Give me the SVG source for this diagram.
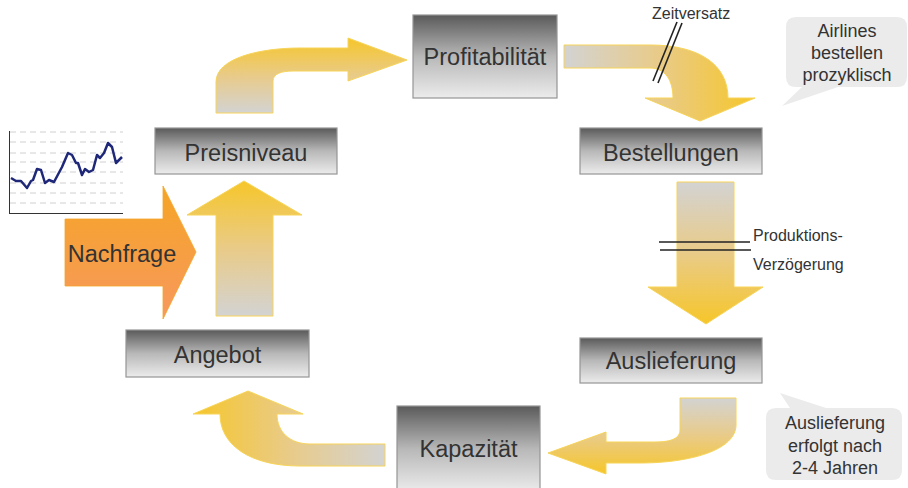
<svg xmlns="http://www.w3.org/2000/svg" width="908" height="488" viewBox="0 0 908 488">
<defs>
<linearGradient id="gBox" x1="0" y1="0" x2="0" y2="1">
<stop offset="0" stop-color="#5a5a5a"/>
<stop offset="0.5" stop-color="#b8b8b8"/>
<stop offset="1" stop-color="#ececec"/>
</linearGradient>
<linearGradient id="gUp" x1="0" y1="1" x2="0" y2="0">
<stop offset="0" stop-color="#d3d3d3"/>
<stop offset="0.5" stop-color="#e9cb88"/>
<stop offset="1" stop-color="#f6c62a"/>
</linearGradient>
<linearGradient id="gDown" x1="0" y1="0" x2="0" y2="1">
<stop offset="0" stop-color="#d3d3d3"/>
<stop offset="0.5" stop-color="#e9cb88"/>
<stop offset="1" stop-color="#f6c62a"/>
</linearGradient>
<linearGradient id="gRight" x1="0" y1="0" x2="1" y2="0">
<stop offset="0" stop-color="#d3d3d3"/>
<stop offset="0.5" stop-color="#e9cb88"/>
<stop offset="1" stop-color="#f6c62a"/>
</linearGradient>
<linearGradient id="gLeft" x1="1" y1="0" x2="0" y2="0">
<stop offset="0" stop-color="#d3d3d3"/>
<stop offset="0.5" stop-color="#e9cb88"/>
<stop offset="1" stop-color="#f6c62a"/>
</linearGradient>
<linearGradient id="gOrange" x1="0" y1="0" x2="0" y2="1">
<stop offset="0" stop-color="#f5a526"/>
<stop offset="1" stop-color="#f7985e"/>
</linearGradient>
</defs>
<style>
.box{fill:url(#gBox);stroke:#959595;stroke-width:1.2}
.lbl{font-family:"Liberation Sans",Arial,sans-serif;font-size:23.5px;fill:#333333;text-anchor:middle}
.arr{stroke:#f7d458;stroke-width:1}
.note{fill:#ebebeb}
.ntxt{font-family:"Liberation Sans",Arial,sans-serif;font-size:18px;fill:#333333;text-anchor:middle}
.small{font-family:"Liberation Sans",Arial,sans-serif;font-size:16px;fill:#333333}
.grid{stroke:#d0d0d0;stroke-width:1;stroke-dasharray:6 4}
.tick{stroke:#222;stroke-width:1.6}
</style>
<rect width="908" height="488" fill="#ffffff"/>

<g id="chart">
<line class="grid" x1="10" y1="132" x2="123" y2="132"/>
<line class="grid" x1="10" y1="142" x2="123" y2="142"/>
<line class="grid" x1="10" y1="153" x2="123" y2="153"/>
<line class="grid" x1="10" y1="162" x2="123" y2="162"/>
<line class="grid" x1="10" y1="172" x2="123" y2="172"/>
<line class="grid" x1="10" y1="183" x2="123" y2="183"/>
<line class="grid" x1="10" y1="193" x2="123" y2="193"/>
<line class="grid" x1="10" y1="203" x2="123" y2="203"/>
<line x1="9.5" y1="131" x2="9.5" y2="213" stroke="#333" stroke-width="1"/>
<line x1="9" y1="213.5" x2="123" y2="213.5" stroke="#333" stroke-width="1"/>
<polyline fill="none" stroke="#1f2878" stroke-width="2.5" stroke-linejoin="round" points="11,178 16,181 21,181 27,188 31,181 33,180 37,169 41,170 45,183 49,180 54,182 62,167 68,153 72,155 76,163 78,163 82,175 85,169 89,172 93,170 97,155 100,158 104,153 108,143 112,147 116,163 122,157"/>
</g>

<g id="connectors">
<path id="arr-preis-profit" class="arr" fill="url(#gUp)" d="M216,113 L216,82 C216,58 260,48 300,48 L348,48 L348,38 L407,60 L348,81 L348,71 L293,71 C281,71 273,74 273,81 L273,113 Z"/>
<path id="arr-profit-best" class="arr" fill="url(#gRight)" d="M564,45 L650,45 C700,45 728,65 728,98 L755,98 L700,121 L645,98 L673,98 C673,80 665,68 650,68 L564,68 Z"/>
<path id="arr-best-ausl" class="arr" fill="url(#gDown)" d="M677,182 L734,182 L734,287 L763,287 L706,324 L648,287 L677,287 Z"/>
<path id="arr-ausl-kap" class="arr" fill="url(#gDown)" d="M680,398 L736,398 L736,425 C736,450 690,463 640,463 L606,463 L606,474 L548,453 L606,432 L606,442 L655,442 C672,442 680,438 680,430 Z"/>
<path id="arr-kap-ang" class="arr" fill="url(#gLeft)" d="M385,444 L310,444 C290,444 277,432 277,414 L303,414 L248,391 L193,414 L220,414 C220,445 250,466 300,466 L385,466 Z"/>
<path id="arr-ang-preis" class="arr" fill="url(#gUp)" d="M216,316 L216,215 L187,215 L244,181 L302,215 L273,215 L273,316 Z"/>
<line class="tick" x1="653" y1="81" x2="677" y2="22"/>
<line class="tick" x1="658" y1="83" x2="682" y2="23"/>
<line class="tick" x1="659" y1="242" x2="750" y2="242"/>
<line class="tick" x1="660" y1="250" x2="751" y2="250"/>
<text class="small" x="652" y="19">Zeitversatz</text>
<text class="small" x="753" y="241">Produktions-</text>
<text class="small" x="753" y="270">Verzögerung</text>
</g>

<g id="nachfrage">
<path fill="url(#gOrange)" stroke="#f5a526" stroke-width="0.8" d="M65,219 L163,219 L163,186 L196,252 L163,319 L163,286 L65,286 Z"/>
<text class="lbl" x="122" y="262">Nachfrage</text>
</g>

<g id="profitabilitaet">
<rect class="box" x="413" y="15" width="144" height="83"/>
<text class="lbl" x="485" y="65">Profitabilität</text>
</g>
<g id="preisniveau">
<rect class="box" x="155" y="128" width="182" height="46"/>
<text class="lbl" x="246" y="161">Preisniveau</text>
</g>
<g id="bestellungen">
<rect class="box" x="580" y="128" width="182" height="46"/>
<text class="lbl" x="671" y="161">Bestellungen</text>
</g>
<g id="auslieferung">
<rect class="box" x="580" y="338" width="182" height="45"/>
<text class="lbl" x="671" y="369">Auslieferung</text>
</g>
<g id="angebot">
<rect class="box" x="126" y="330" width="183" height="47"/>
<text class="lbl" x="217.5" y="363">Angebot</text>
</g>
<g id="kapazitaet">
<rect class="box" x="397" y="406" width="143" height="86"/>
<text class="lbl" x="468.5" y="457">Kapazität</text>
</g>

<g id="note-airlines">
<path class="note" d="M796,17 L897,17 Q907,17 907,27 L907,77 Q907,87 897,87 L838,87 L782,106 L802,87 L796,87 Q786,87 786,77 L786,27 Q786,17 796,17 Z"/>
<text class="ntxt" x="847" y="37">Airlines</text>
<text class="ntxt" x="847" y="59">bestellen</text>
<text class="ntxt" x="847" y="81">prozyklisch</text>
</g>
<g id="note-auslieferung">
<path class="note" d="M776,408 L790,408 L780,393 L826,408 L892,408 Q902,408 902,418 L902,470 Q902,480 892,480 L776,480 Q766,480 766,470 L766,418 Q766,408 776,408 Z"/>
<text class="ntxt" x="835" y="429">Auslieferung</text>
<text class="ntxt" x="835" y="452">erfolgt nach</text>
<text class="ntxt" x="835" y="474">2-4 Jahren</text>
</g>
</svg>
